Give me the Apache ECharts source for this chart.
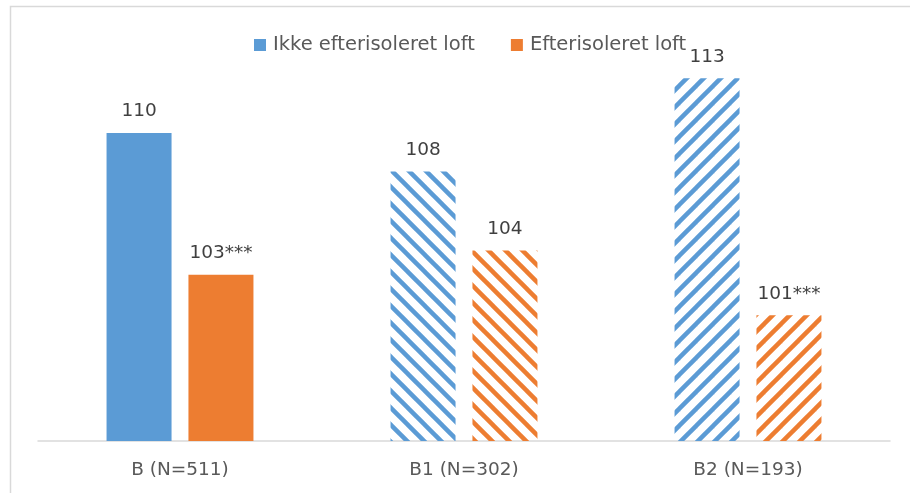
<!DOCTYPE html>
<html>
<head>
<meta charset="utf-8">
<script src="https://cdn.jsdelivr.net/npm/echarts@6/dist/echarts.min.js"></script>
<style>
  html, body { margin: 0; padding: 0; background: #fff; }
  #chart { width: 910px; height: 493px; }
</style>
</head>
<body>
<div id="chart"></div>
<script>
const categories = ['B (N=511)', 'B1 (N=302)', 'B2 (N=193)']
const seriesNames = ['Ikke efterisoleret loft', 'Efterisoleret loft']
// bar heights, labels as printed
const ikkeValues = [110, 108.1, 112.7]
const efterValues = [103, 104.2, 101]
const ikkeLabels = ['110', '108', '113']
const efterLabels = ['103***', '104', '101***']

const BLUE = '#5B9BD5'
const ORANGE = '#ED7D31'
const FONT = 'DejaVu Sans'

// striped fill, dir 1 = "\" , dir -1 = "/"
function stripes(color, dir) {
  const size = 17
  const c = document.createElement('canvas')
  c.width = size
  c.height = size
  const ctx = c.getContext('2d')
  ctx.strokeStyle = color
  ctx.lineWidth = 4.5
  for (let k = -1; k <= 1; k++) {
    ctx.beginPath()
    if (dir > 0) {
      ctx.moveTo(k * size - 2, -2)
      ctx.lineTo(k * size + size + 2, size + 2)
    } else {
      ctx.moveTo(k * size - 2, size + 2)
      ctx.lineTo(k * size + size + 2, -2)
    }
    ctx.stroke()
  }
  return { image: c, repeat: 'repeat' }
}

function buildData(values, labels, color) {
  const fills = [color, stripes(color, 1), stripes(color, -1)]
  return values.map((v, i) => ({
    value: v,
    itemStyle: { color: fills[i] },
    label: { formatter: labels[i] }
  }))
}

const chart = echarts.init(document.getElementById('chart'))

const labelStyle = { show: true, position: 'top', distance: 12, fontSize: 18.5, color: '#404040', fontFamily: FONT }

chart.setOption({
  animation: false,
  textStyle: { fontFamily: FONT },
  graphic: [{
    type: 'polyline',
    shape: { points: [[10.5, 493], [10.5, 6.5], [910, 6.5]] },
    style: { stroke: '#D9D9D9', lineWidth: 1.5, fill: 'none' }
  }],
  legend: {
    data: seriesNames,
    top: 30,
    left: 249,
    itemWidth: 12,
    itemHeight: 12,
    itemGap: 36,
    icon: 'rect',
    textStyle: { fontSize: 19.5, color: '#595959', fontFamily: FONT, padding: [0, 0, 0, 2] }
  },
  grid: {
    top: 60,
    left: 38,
    right: 20,
    bottom: 52
  },
  xAxis: {
    type: 'category',
    data: categories,
    axisLine: { lineStyle: { color: '#D9D9D9', width: 1.5 } },
    axisTick: { show: false },
    axisLabel: { fontSize: 18.5, color: '#595959', margin: 20, fontFamily: FONT }
  },
  yAxis: {
    type: 'value',
    min: 94.8,
    max: 113.6,
    show: false,
    splitLine: { show: false }
  },
  series: [{
    name: seriesNames[0],
    type: 'bar',
    barWidth: 65,
    barGap: '26%',
    itemStyle: { color: BLUE },
    label: labelStyle,
    data: buildData(ikkeValues, ikkeLabels, BLUE)
  }, {
    name: seriesNames[1],
    type: 'bar',
    barWidth: 65,
    itemStyle: { color: ORANGE },
    label: labelStyle,
    data: buildData(efterValues, efterLabels, ORANGE)
  }]
})
</script>
</body>
</html>
